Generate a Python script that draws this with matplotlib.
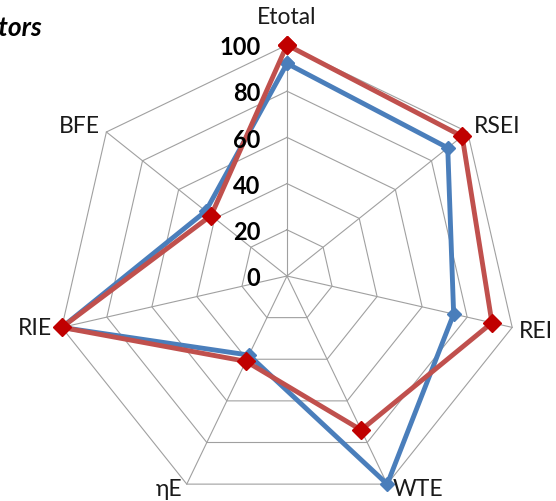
import numpy as np
import matplotlib
matplotlib.use("Agg")
import matplotlib.pyplot as plt

# Indicator axes, clockwise from the top
categories = ["Etotal", "RSEI", "REI", "WTE", "ηE", "RIE", "BFE"]
series_blue = [92, 89, 74, 100, 38, 100, 45]
series_red = [100, 97, 91, 74, 41, 100, 42]
ring_values = [0, 20, 40, 60, 80, 100]
ring_labels = ["0", "20", "40", "60", "80", "100"]

BLUE = "#4A7EBB"
RED_LINE = "#C0504D"
RED_MARK = "#C00000"
GRID = "#A0A0A0"
FONT = "Lato"

W, H, DPI = 556, 501, 100
fig = plt.figure(figsize=(W / DPI, H / DPI), dpi=DPI)
fig.patch.set_facecolor("white")

# Chart centre and outer radius in pixels
cx, cy, R = 287, 276, 231
ax = fig.add_axes([(cx - R) / W, (H - cy - R) / H, 2 * R / W, 2 * R / H],
                  projection="polar")
ax.set_theta_offset(np.pi / 2)
ax.set_theta_direction(-1)
ax.set_ylim(0, 100)
ax.grid(False)
ax.spines["polar"].set_visible(False)
ax.set_xticks([])
ax.set_yticks([])
ax.patch.set_alpha(0)

n = len(categories)
angles = np.arange(n) * 2 * np.pi / n
closed = np.append(angles, angles[0])

# Heptagonal grid rings and spokes
for r in ring_values[1:]:
    ax.plot(closed, [r] * (n + 1), color=GRID, lw=0.8, zorder=1, clip_on=False)
for a in angles:
    ax.plot([a, a], [0, 100], color=GRID, lw=0.8, zorder=1, clip_on=False)

# Data series
ax.plot(closed, np.append(series_blue, series_blue[0]), color=BLUE, lw=3.5,
        marker="D", ms=7.5, mfc=BLUE, mec=BLUE, zorder=3, clip_on=False,
        solid_joinstyle="miter")
ax.plot(closed, np.append(series_red, series_red[0]), color=RED_LINE, lw=3.5,
        marker="D", ms=9, mfc=RED_MARK, mec=RED_MARK, zorder=4, clip_on=False,
        solid_joinstyle="miter")

# Radial value labels along the top spoke
for v, lab in zip(ring_values, ring_labels):
    ax.annotate(lab, xy=(0, v), xytext=(-19, -2), textcoords="offset points",
                ha="right", va="center", fontsize=17, fontweight="bold",
                family=FONT, color="black", zorder=5, annotation_clip=False)

# Category labels around the outer ring (offsets in pixels)
label_pos = [
    ((0, 27), "center", "center"),
    ((6, 5), "left", "center"),
    ((7, -4), "left", "center"),
    ((5, -5), "left", "center"),
    ((-4, -5), "right", "center"),
    ((-10, -1), "right", "center"),
    ((-7, 5), "right", "center"),
]
for a, name, (off, ha, va) in zip(angles, categories, label_pos):
    ax.annotate(name, xy=(a, 100),
                xytext=(off[0] * 72 / DPI, off[1] * 72 / DPI),
                textcoords="offset points", ha=ha, va=va, fontsize=16.5,
                family=[FONT, "DejaVu Sans"], color="#1a1a1a",
                annotation_clip=False)

# Title, running off the left edge
fig.text(43 / W, 1 - 28 / H, "Indicators", ha="right", va="center",
         fontsize=19, fontweight="bold", fontstyle="italic", family=FONT)

fig.savefig("out.png", dpi=DPI)
